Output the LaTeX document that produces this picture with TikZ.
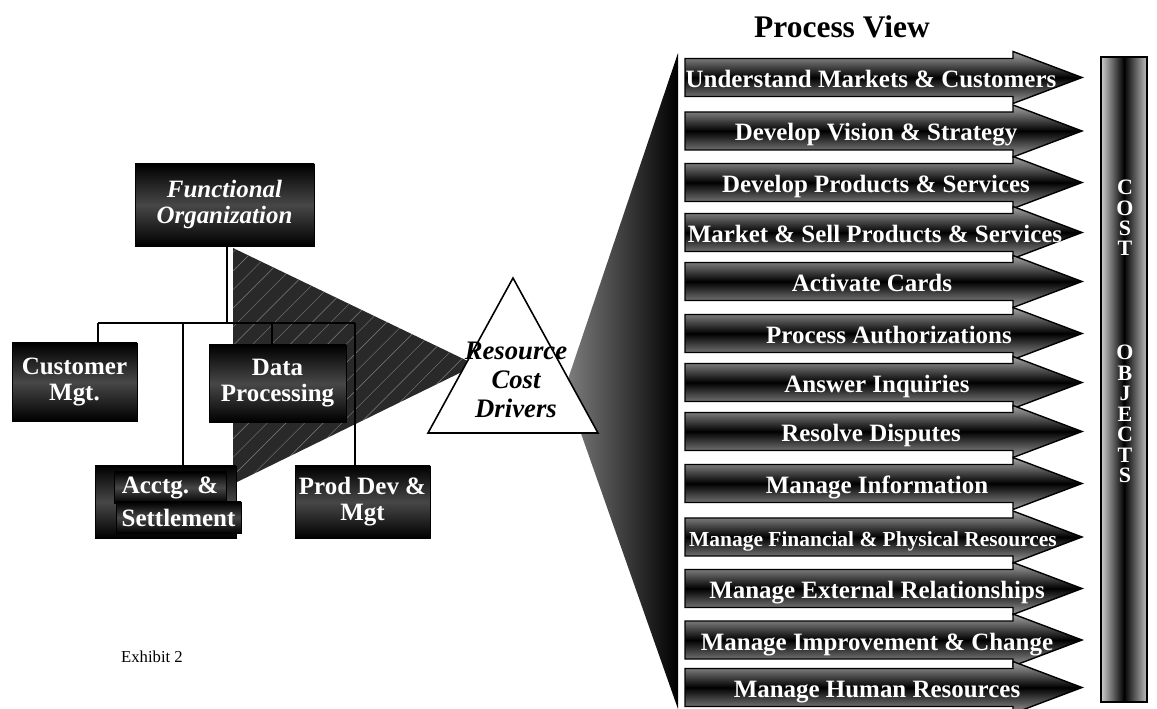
\documentclass[tikz,border=0pt]{standalone}
\usepackage{fontspec}
\setmainfont{Liberation Serif}
\usetikzlibrary{patterns.meta}

\newcommand{\procfont}{\fontsize{14.2}{16}\selectfont\bfseries}
\newcommand{\procsmall}{\fontsize{12.2}{14}\selectfont\bfseries}
\newcommand{\boxfont}{\fontsize{14.2}{14.8}\selectfont\bfseries}

\tikzset{
  orgbox/.style={draw=black, top color=black, bottom color=black,
    middle color=black!72, text=white, font=\boxfont, align=center,
    inner sep=0pt},
  orgline/.style={line width=1.7pt, black},
  procarrow/.style={draw=black, line width=0.8pt, top color=black!35,
    bottom color=black!40, middle color=black},
  proclabel/.style={text=white, inner sep=0pt, anchor=base},
  costletter/.style={text=white, inner sep=0pt,
    font=\fontsize{12.5}{13}\selectfont\bfseries},
}

\begin{document}
\begin{tikzpicture}[x=0.02cm, y=0.02cm]

  \def\px{0.02cm}
  \def\arrleft{685}
  \def\notch{1013}
  \def\tip{1082}
  \def\bh{19}
  \def\hh{26}

  \useasboundingbox (0,0) rectangle (1157,-709);

  % Funnel from the cost drivers to the processes.
  \shade [left color=black!50, right color=black]
    (678,-53) -- (678,-709) -- (565,-388) -- cycle;

  % Hatched wedge from the organization to the cost drivers.
  \fill [black!84] (233,-248) -- (476,-365) -- (233,-484) -- cycle;
  \fill [pattern={Lines[angle=45, distance=7.5pt, line width=0.25pt]},
         pattern color=black!50]
    (233,-248) -- (476,-365) -- (233,-484) -- cycle;

  % Functional organization chart.
  \node [orgbox, minimum width=179*\px, minimum height=82*\px,
         font=\boxfont\itshape] (func) at (224.5,-205)
        {Functional\\Organization};
  \node [orgbox, minimum width=125*\px, minimum height=78*\px]
        (cust) at (74.5,-382) {Customer\\Mgt.};
  \node [orgbox, minimum width=141*\px, minimum height=72*\px]
        (acct) at (165.5,-502) {};
  \node [orgbox, minimum width=112*\px, minimum height=31*\px]
        (acct1) at (170,-487.5) {Acctg. \&};
  \node [orgbox, minimum width=125*\px, minimum height=31*\px]
        (acct2) at (178.5,-517.5) {Settlement};
  \node [orgbox, minimum width=137*\px, minimum height=77*\px]
        (data) at (277.5,-383.5) {Data\\Processing};
  \node [orgbox, minimum width=135*\px, minimum height=72*\px]
        (prod) at (362.5,-502) {Prod Dev \&\\Mgt};

  \coordinate (bus) at (227,-323);
  \coordinate (dcust) at (98,-323);
  \coordinate (dacct) at (183,-323);
  \coordinate (ddata) at (272,-323);
  \coordinate (dprod) at (355,-323);

  \draw [orgline] (func.south -| bus) -- (bus);
  \draw [orgline] (dcust) -- (dprod);
  \draw [orgline] (dcust) -- (dcust |- cust.north);
  \draw [orgline] (dacct) -- (dacct |- acct.north);
  \draw [orgline] (ddata) -- (ddata |- data.north);
  \draw [orgline] (dprod) -- (dprod |- prod.north);

  % Resource cost drivers.
  \draw [fill=white, line width=0.9pt] (428,-433) -- (513,-278)
        -- (598,-433) -- cycle;
  \node [align=center, font=\fontsize{15.2}{16.3}\selectfont\bfseries\itshape,
         inner sep=0pt] (rcd) at (516,-380) {Resource\\Cost\\Drivers};

  % Process view.
  \node [font=\fontsize{17.9}{20}\selectfont\bfseries] (title)
        at (842,-27) {Process View};

  \foreach \i/\yc/\xt/\fsz/\lbl in {
      1/77.5/871/\procfont/Understand Markets \& Customers,
      2/131/876/\procfont/Develop Vision \& Strategy,
      3/182.5/876/\procfont/Develop Products \& Services,
      4/232.5/875/\procfont/Market \& Sell Products \& Services,
      5/281.5/872/\procfont/Activate Cards,
      6/333.5/889/\procfont/Process Authorizations,
      7/382.5/877/\procfont/Answer Inquiries,
      8/431.5/871/\procfont/Resolve Disputes,
      9/483.5/877/\procfont/Manage Information,
      10/537/873/\procsmall/Manage Financial \& Physical Resources,
      11/588.5/877/\procfont/Manage External Relationships,
      12/640/877/\procfont/Manage Improvement \& Change,
      13/687.5/877/\procfont/Manage Human Resources} {
    \draw [procarrow] (\arrleft,{-\yc+\bh}) -- (\notch,{-\yc+\bh})
          -- (\notch,{-\yc+\hh}) -- (\tip,-\yc) -- (\notch,{-\yc-\hh})
          -- (\notch,{-\yc-\bh}) -- (\arrleft,{-\yc-\bh}) -- cycle;
    \node [proclabel, font=\fsz] (p\i) at (\xt,{-\yc-10}) {\lbl};
  }

  % Cost objects.
  \shade [draw=black, line width=0.8pt, left color=black!20,
          right color=black!25, middle color=black]
    (1101,-57) rectangle (1147,-702);
  \foreach \k/\ch/\yy in {1/C/187, 2/O/208, 3/S/228, 4/T/248,
      5/O/352, 6/B/373, 7/J/393, 8/E/414, 9/C/434, 10/T/455, 11/S/475}
    \node [costletter] (c\k) at (1125,-\yy) {\ch};

  \node [font=\fontsize{9.5}{11}\selectfont] (exhibit) at (152,-657)
        {Exhibit 2};

\end{tikzpicture}
\end{document}
